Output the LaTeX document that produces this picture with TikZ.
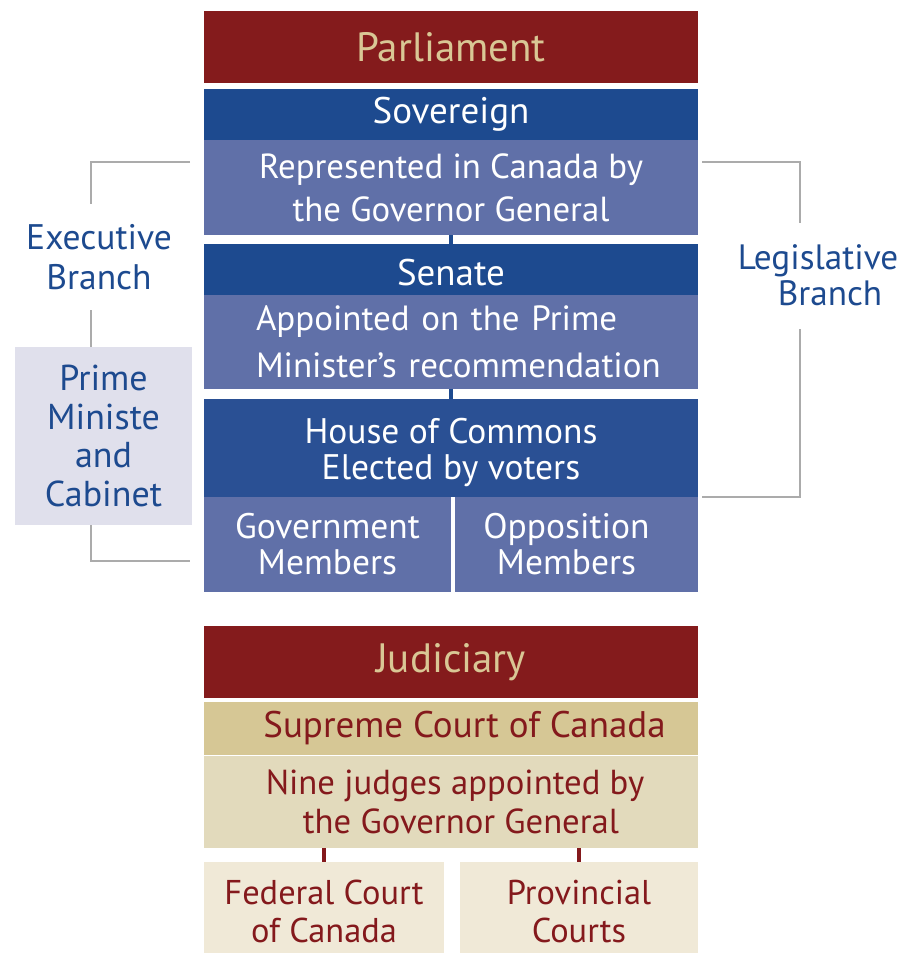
\documentclass[tikz,border=0pt]{standalone}
\usepackage{fontspec}
\setmainfont{PT Sans}
\definecolor{parlred}{HTML}{841B1C}
\definecolor{goldtxt}{HTML}{D9C795}
\definecolor{dblue}{HTML}{1D4A8F}
\definecolor{hblue}{HTML}{2A5094}
\definecolor{lblue}{HTML}{6070A8}
\definecolor{pmfill}{HTML}{E0E0EC}
\definecolor{graylin}{HTML}{ABABAB}
\definecolor{supfill}{HTML}{D6C795}
\definecolor{ninefill}{HTML}{E2DABC}
\definecolor{lowfill}{HTML}{F0E9D7}
\definecolor{redtxt}{HTML}{84191C}
\tikzset{
  box/.style={anchor=north west, inner sep=0pt, outer sep=0pt, draw=none, align=center},
  txt/.style={inner sep=0pt, align=center},
  headfont/.style={font=\fontsize{41}{48}\selectfont},
  bracket/.style={draw=graylin, line width=2.6pt},
  bluejoin/.style={draw=dblue, line width=4pt},
  redjoin/.style={draw=redtxt, line width=4pt},
  bluelabel/.style={text=dblue, align=center, inner sep=0pt}
}
\begin{document}
\begin{tikzpicture}[x=1pt,y=-1pt]
\useasboundingbox (0,0) rectangle (900,953);
% Parliament
\node[box, fill=parlred, minimum width=494pt, minimum height=72pt, text=goldtxt, headfont] (parl) at (204,11) {Parliament};
\node[box, fill=dblue, minimum width=494pt, minimum height=51pt, text=white, font=\fontsize{37}{43}\selectfont] (sov) at (204,89) {Sovereign};
\node[box, fill=lblue, minimum width=494pt, minimum height=95pt, text=white, font=\fontsize{34.8}{43}\selectfont] (rep) at (204,140) {Represented in Canada by\\the Governor General};
\node[box, fill=dblue, minimum width=494pt, minimum height=51pt] (sen) at (204,244) {};
\node[txt, text=white, font=\fontsize{37}{43}\selectfont, yshift=-3pt] (senT) at (sen.center) {Senate};
\node[box, fill=lblue, minimum width=494pt, minimum height=94pt, text width=494pt, text=white, font=\fontsize{35}{47}\selectfont, align=left] (app) at (204,295) {\hspace*{52pt}Appointed on the Prime\\\hspace*{52pt}Minister’s recommendation};
\node[box, fill=hblue, minimum width=494pt, minimum height=98pt] (hoc) at (204,399) {};
\node[txt, text=white, font=\fontsize{35.5}{36}\selectfont, yshift=-4pt] (hocT) at (hoc.center) {House of Commons\\Elected by voters};
\node[box, fill=lblue, minimum width=247pt, minimum height=95pt, text=white, font=\fontsize{35.5}{36}\selectfont] (gov) at (204,497) {Government\\Members};
\node[box, fill=lblue, minimum width=243pt, minimum height=95pt, text=white, font=\fontsize{35.5}{36}\selectfont] (opp) at (455,497) {Opposition\hspace*{20pt}\\Members\hspace*{20pt}};
\draw[bluejoin] (rep.south) -- (sen.north);
\draw[bluejoin] (app.south) -- (hoc.north);
% Executive branch
\node[bluelabel, font=\fontsize{35.5}{40}\selectfont] (exec) at (99,257) {Executive\\Branch};
\node[box, fill=pmfill, minimum width=177pt, minimum height=178pt, text=dblue, font=\fontsize{36}{38.5}\selectfont] (pm) at (15,347) {Prime\\Ministe\\and\\Cabinet};
\coordinate (l1) at (190,162);
\coordinate (l2) at (91,204);
\coordinate (l3) at (91,310);
\coordinate (l4) at (91,525);
\coordinate (l5) at (190,561);
\draw[bracket] (l1) -| (l2);
\draw[bracket] (l3) -- (l3 |- pm.north);
\draw[bracket] (l4) |- (l5);
% Legislative branch
\node[bluelabel, font=\fontsize{35.2}{36}\selectfont] (leg) at (818,275) {Legislative\\\hspace*{24pt}Branch};
\coordinate (r1) at (702,162);
\coordinate (r2) at (800,223);
\coordinate (r3) at (800,329);
\coordinate (r4) at (702,497);
\draw[bracket] (r1) -| (r2);
\draw[bracket] (r3) |- (r4);
% Judiciary
\node[box, fill=parlred, minimum width=494pt, minimum height=72pt, text=goldtxt, headfont] (jud) at (204,626) {Judiciary};
\node[box, fill=supfill, minimum width=494pt, minimum height=53pt, text=redtxt, font=\fontsize{37}{43}\selectfont] (sup) at (204,702) {\hspace*{27pt}Supreme Court of Canada};
\node[box, fill=ninefill, minimum width=494pt, minimum height=92pt, text=redtxt, font=\fontsize{34.7}{39}\selectfont] (nine) at (204,756) {\hspace*{8pt}Nine judges appointed by\\\hspace*{20pt}the Governor General};
\node[box, fill=lowfill, minimum width=240pt, minimum height=91pt] (fed) at (204,862) {};
\node[txt, text=redtxt, font=\fontsize{34.4}{38}\selectfont, yshift=-4pt] (fedT) at (fed.center) {Federal Court\\of Canada};
\node[box, fill=lowfill, minimum width=238pt, minimum height=91pt] (prov) at (460,862) {};
\node[txt, text=redtxt, font=\fontsize{34.4}{38}\selectfont, yshift=-4pt] (provT) at (prov.center) {Provincial\\Courts};
\draw[redjoin] (nine.south -| fed.north) -- (fed.north);
\draw[redjoin] (nine.south -| prov.north) -- (prov.north);
\end{tikzpicture}
\end{document}
